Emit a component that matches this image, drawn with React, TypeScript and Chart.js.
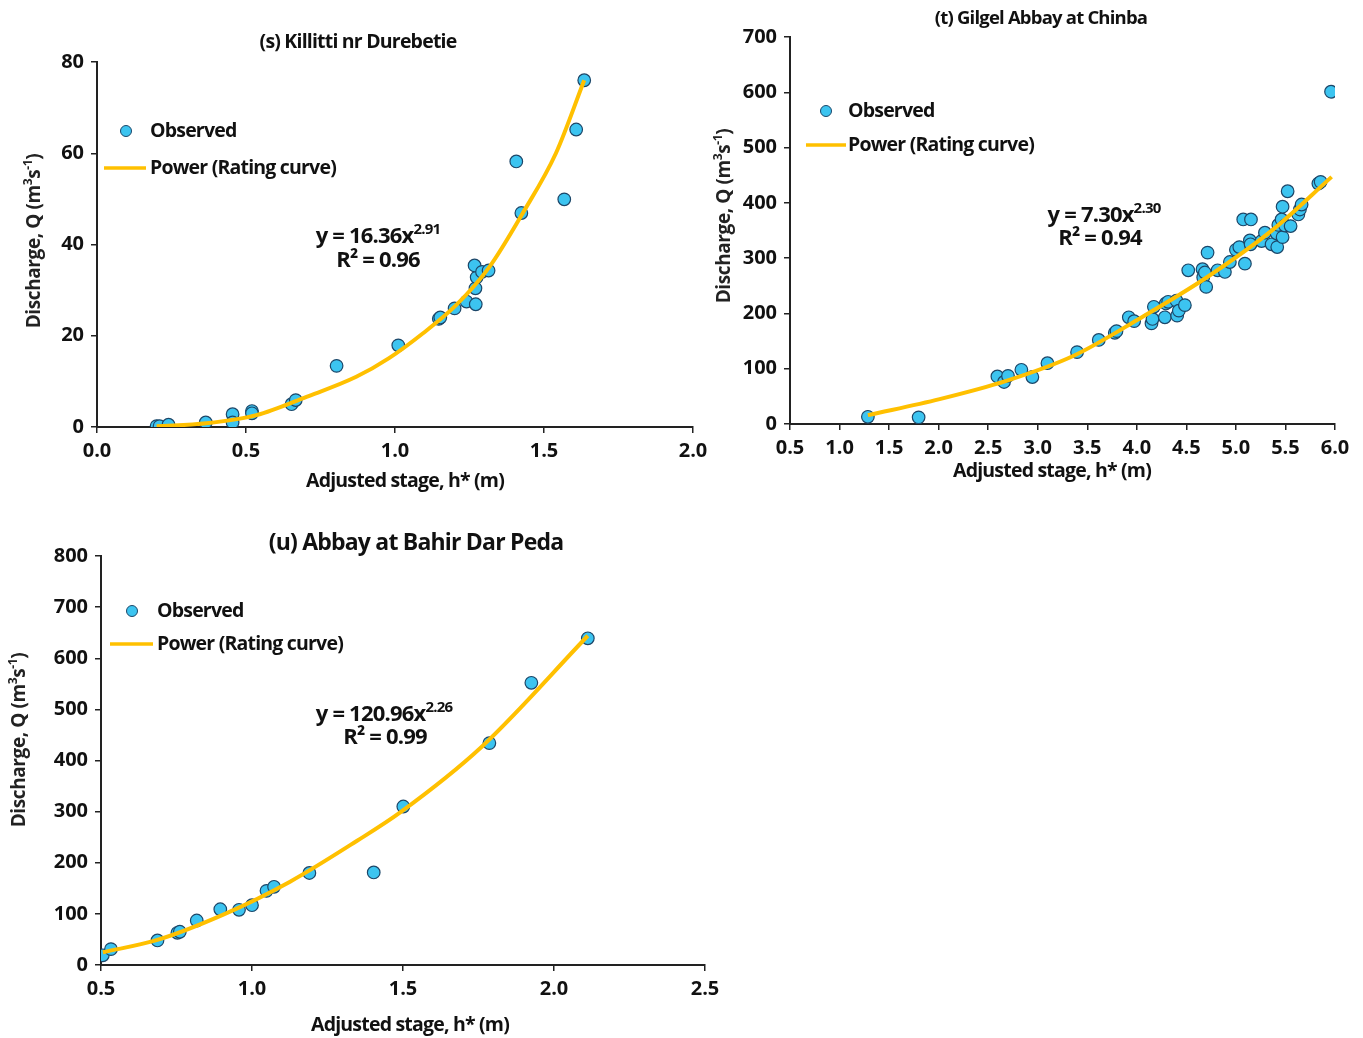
import React, { useEffect, useRef } from "react";
import { Chart, registerables } from "chart.js";

Chart.register(...registerables);

// ---------- Data ----------
// (s) Killitti nr Durebetie
const S_OBS_X = [0.2, 0.21, 0.24, 0.365, 0.455, 0.455, 0.52, 0.52, 0.653, 0.667, 0.804, 1.011, 1.147, 1.152, 1.2, 1.24, 1.271, 1.27, 1.274, 1.267, 1.292, 1.314, 1.424, 1.407, 1.568, 1.608, 1.635];
const S_OBS_Y = [0.2, 0.2, 0.5, 1.0, 2.8, 1.0, 3.5, 3.0, 5.0, 5.9, 13.4, 17.9, 23.7, 24.0, 26.0, 27.5, 26.9, 30.4, 32.8, 35.4, 34.0, 34.3, 46.9, 58.2, 49.9, 65.2, 76.0];
const S_FIT_X = [0.2, 0.367, 0.535, 0.703, 0.87, 0.98, 1.093, 1.205, 1.317, 1.428, 1.54, 1.635];
const S_FIT_Y = [0.15, 0.8, 2.6, 6.6, 11, 15.1, 20.5, 26.7, 35.1, 46.8, 60, 76];

// (t) Gilgel Abbay at Chinba
const T_OBS_X = [1.286, 1.798, 2.593, 2.66, 2.7, 2.835, 2.946, 3.098, 3.397, 3.616, 3.778, 3.795, 3.919, 3.973, 4.148, 4.158, 4.172, 4.283, 4.293, 4.316, 4.4, 4.407, 4.424, 4.485, 4.519, 4.663, 4.67, 4.687, 4.7, 4.714, 4.815, 4.889, 4.939, 5.0, 5.034, 5.074, 5.091, 5.152, 5.141, 5.148, 5.259, 5.293, 5.36, 5.41, 5.417, 5.428, 5.461, 5.471, 5.471, 5.495, 5.522, 5.552, 5.63, 5.646, 5.663, 5.832, 5.855, 5.96];
const T_OBS_Y = [13, 12, 86, 76, 87, 98, 85, 110, 130, 152, 165, 168, 193, 186, 182, 190, 212, 193, 218, 221, 223, 196, 205, 215, 278, 280, 265, 274, 248, 310, 278, 275, 293, 315, 320, 370, 290, 370, 332, 325, 331, 346, 325, 345, 320, 360, 370, 338, 393, 359, 421, 358, 379, 388, 397, 435, 438, 601];
const T_FIT_X = [1.286, 2.01, 2.683, 3.357, 4.03, 4.704, 5.377, 5.966];
const T_FIT_Y = [16, 45, 78, 123, 191, 265, 352, 447];

// (u) Abbay at Bahir Dar Peda
const U_OBS_X = [0.506, 0.533, 0.687, 0.753, 0.761, 0.817, 0.895, 0.957, 1.0, 1.048, 1.073, 1.19, 1.403, 1.501, 1.786, 1.925, 2.112];
const U_OBS_Y = [19, 31, 48, 63, 65, 87, 109, 108, 117, 145, 153, 180, 181, 310, 434, 552, 639];
const U_FIT_X = [0.506, 0.681, 0.903, 1.126, 1.348, 1.492, 1.759, 2.112];
const U_FIT_Y = [25, 48, 98, 163, 243, 299, 426, 644];

const LEGEND_LABELS = ["Observed", "Power (Rating curve)"];
const X_TITLE = "Adjusted stage, h* (m)";
// y title pieces: [text, isSuperscript]
const Y_TITLE_PARTS: [string, boolean][] = [["Discharge, Q (m", false], ["3", true], ["s", false], ["-1", true], [")", false]];

const FONT = '"Open Sans", "Liberation Sans", sans-serif';
const DOT_FILL = "#3CC4F0";
const DOT_EDGE = "#1C4668";
const CURVE = "#FFC000";
const INK = "#111111";

type PanelSpec = {
  left: number; top: number; width: number; height: number;
  area: { l: number; r: number; t: number; b: number };
  xMin: number; xMax: number; xStep: number;
  yMin: number; yMax: number; yStep: number;
  obsX: number[]; obsY: number[]; fitX: number[]; fitY: number[];
  title: string; titleXY: [number, number]; titleSize: number;
  xTitleXY: [number, number]; yTitleXY: [number, number];
  legendDot: [number, number]; legendLine: [number, number, number]; legendTextX: number;
  eqBase: string; eqSup: string; r2: string; eqXY: [number, number]; r2XY: [number, number];
};

function drawParts(ctx: CanvasRenderingContext2D, parts: [string, boolean][], cx: number, cy: number, size: number, supSize: number, supRise: number) {
  const widths = parts.map(([t, sup]) => {
    ctx.font = `700 ${sup ? supSize : size}px ${FONT}`;
    return ctx.measureText(t).width;
  });
  const total = widths.reduce((a, b) => a + b, 0);
  let x = cx - total / 2;
  ctx.textAlign = "left";
  parts.forEach(([t, sup], i) => {
    ctx.font = `700 ${sup ? supSize : size}px ${FONT}`;
    ctx.fillText(t, x, sup ? cy - supRise : cy);
    x += widths[i];
  });
}

const textPlugin = {
  id: "panelText",
  afterDraw(chart: any, _args: any, opts: any) {
    const p: PanelSpec = opts.spec;
    if (!p) return;
    const ctx = chart.ctx as CanvasRenderingContext2D;
    ctx.save();
    (ctx as any).letterSpacing = "-0.8px";
    ctx.fillStyle = INK;
    ctx.textBaseline = "middle";

    // title
    ctx.font = `700 ${p.titleSize}px ${FONT}`;
    ctx.textAlign = "center";
    ctx.fillText(p.title, p.titleXY[0], p.titleXY[1]);

    // x title
    ctx.font = `700 19.5px ${FONT}`;
    ctx.fillText(X_TITLE, p.xTitleXY[0], p.xTitleXY[1]);

    // y title
    ctx.save();
    ctx.translate(p.yTitleXY[0], p.yTitleXY[1]);
    ctx.rotate(-Math.PI / 2);
    ctx.fillStyle = "#222";
    (ctx as any).letterSpacing = "-0.4px";
    drawParts(ctx, Y_TITLE_PARTS, 0, 0, 19, 12, 6);
    ctx.restore();

    // legend
    ctx.beginPath();
    ctx.arc(p.legendDot[0], p.legendDot[1], 5.5, 0, Math.PI * 2);
    ctx.fillStyle = DOT_FILL;
    ctx.fill();
    ctx.lineWidth = 1;
    ctx.strokeStyle = DOT_EDGE;
    ctx.stroke();
    ctx.beginPath();
    ctx.moveTo(p.legendLine[0], p.legendLine[2]);
    ctx.lineTo(p.legendLine[1], p.legendLine[2]);
    ctx.lineWidth = 3.5;
    ctx.strokeStyle = CURVE;
    ctx.stroke();
    ctx.fillStyle = INK;
    ctx.textAlign = "left";
    ctx.font = `700 19.5px ${FONT}`;
    ctx.fillText(LEGEND_LABELS[0], p.legendTextX, p.legendDot[1]);
    ctx.fillText(LEGEND_LABELS[1], p.legendTextX, p.legendLine[2]);

    // equation
    drawParts(ctx, [[p.eqBase, false], [p.eqSup, true]], p.eqXY[0], p.eqXY[1], 22, 15, 7);
    ctx.font = `700 22px ${FONT}`;
    ctx.textAlign = "center";
    ctx.fillText(p.r2, p.r2XY[0], p.r2XY[1]);
    ctx.restore();
  },
};

function toPts(xs: number[], ys: number[]) {
  return xs.map((x, i) => ({ x, y: ys[i] }));
}

function Panel({ spec }: { spec: PanelSpec }) {
  const ref = useRef<HTMLCanvasElement | null>(null);
  useEffect(() => {
    if (!ref.current) return;
    const p = spec;
    const Y_W = 70;
    const X_H = 44;
    const tickFont = { family: FONT, size: 20, weight: 700 as any };
    const chart = new Chart(ref.current, {
      type: "scatter",
      data: {
        datasets: [
          {
            label: LEGEND_LABELS[1],
            data: toPts(p.fitX, p.fitY),
            showLine: true,
            borderColor: CURVE,
            borderWidth: 4,
            pointRadius: 0,
            cubicInterpolationMode: "monotone",
            fill: false,
          } as any,
          {
            label: LEGEND_LABELS[0],
            data: toPts(p.obsX, p.obsY),
            pointRadius: 6.3,
            pointBackgroundColor: DOT_FILL,
            pointBorderColor: DOT_EDGE,
            pointBorderWidth: 1.2,
            showLine: false,
          } as any,
        ],
      },
      options: {
        responsive: false,
        animation: false,
        devicePixelRatio: 1,
        layout: {
          padding: {
            left: p.area.l - Y_W,
            right: p.width - p.area.r,
            top: p.area.t,
            bottom: p.height - p.area.b - X_H,
          },
        },
        plugins: {
          legend: { display: false },
          title: { display: false },
          tooltip: { enabled: false },
          panelText: { spec: p },
        } as any,
        scales: {
          x: {
            type: "linear",
            min: p.xMin,
            max: p.xMax,
            afterFit: (s: any) => { s.height = X_H; },
            ticks: {
              stepSize: p.xStep,
              autoSkip: false,
              maxRotation: 0,
              color: INK,
              font: tickFont,
              padding: 6,
              callback: (v: any) => Number(v).toFixed(1),
            },
            grid: { drawOnChartArea: false, drawTicks: true, tickLength: 6, color: "#222", lineWidth: 1.5 },
            border: { display: true, color: "#222", width: 2 },
          },
          y: {
            type: "linear",
            min: p.yMin,
            max: p.yMax,
            afterFit: (s: any) => { s.width = Y_W; },
            ticks: {
              stepSize: p.yStep,
              autoSkip: false,
              color: INK,
              font: tickFont,
              padding: 7,
            },
            grid: { drawOnChartArea: false, drawTicks: true, tickLength: 6, color: "#222", lineWidth: 1.5 },
            border: { display: true, color: "#222", width: 2 },
          },
        },
      } as any,
      plugins: [textPlugin],
    });
    return () => chart.destroy();
  }, [spec]);
  return (
    <canvas
      ref={ref}
      width={spec.width}
      height={spec.height}
      style={{ position: "absolute", left: spec.left, top: spec.top, width: spec.width, height: spec.height }}
    />
  );
}

const SPEC_S: PanelSpec = {
  left: 0, top: 0, width: 720, height: 505,
  area: { l: 97, r: 693, t: 62, b: 427 },
  xMin: 0, xMax: 2, xStep: 0.5, yMin: 0, yMax: 80, yStep: 20,
  obsX: S_OBS_X, obsY: S_OBS_Y, fitX: S_FIT_X, fitY: S_FIT_Y,
  title: "(s) Killitti nr Durebetie", titleXY: [358, 42], titleSize: 19.5,
  xTitleXY: [405, 481], yTitleXY: [35, 241],
  legendDot: [126, 131], legendLine: [104, 146, 168], legendTextX: 150,
  eqBase: "y = 16.36x", eqSup: "2.91", r2: "R\u00B2 = 0.96", eqXY: [378, 237], r2XY: [378, 261],
};

const SPEC_T: PanelSpec = {
  left: 700, top: 0, width: 663, height: 500,
  area: { l: 90, r: 635, t: 37, b: 424 },
  xMin: 0.5, xMax: 6, xStep: 0.5, yMin: 0, yMax: 700, yStep: 100,
  obsX: T_OBS_X, obsY: T_OBS_Y, fitX: T_FIT_X, fitY: T_FIT_Y,
  title: "(t) Gilgel Abbay at Chinba", titleXY: [341, 19], titleSize: 18.5,
  xTitleXY: [352, 471], yTitleXY: [25, 216],
  legendDot: [126, 111], legendLine: [106, 146, 145], legendTextX: 148,
  eqBase: "y = 7.30x", eqSup: "2.30", r2: "R\u00B2 = 0.94", eqXY: [404, 216], r2XY: [400, 239],
};

const SPEC_U: PanelSpec = {
  left: 0, top: 505, width: 740, height: 533,
  area: { l: 101, r: 705, t: 51, b: 460 },
  xMin: 0.5, xMax: 2.5, xStep: 0.5, yMin: 0, yMax: 800, yStep: 100,
  obsX: U_OBS_X, obsY: U_OBS_Y, fitX: U_FIT_X, fitY: U_FIT_Y,
  title: "(u) Abbay at Bahir Dar Peda", titleXY: [416, 38], titleSize: 23,
  xTitleXY: [410, 520], yTitleXY: [20, 235],
  legendDot: [132, 106], legendLine: [110, 153, 139], legendTextX: 157,
  eqBase: "y = 120.96x", eqSup: "2.26", r2: "R\u00B2 = 0.99", eqXY: [384, 210], r2XY: [385, 233],
};

export default function App() {
  return (
    <div style={{ position: "fixed", left: 0, top: 0, width: 1363, height: 1038, background: "#fff", overflow: "hidden" }}>
      <Panel spec={SPEC_S} />
      <Panel spec={SPEC_T} />
      <Panel spec={SPEC_U} />
    </div>
  );
}
